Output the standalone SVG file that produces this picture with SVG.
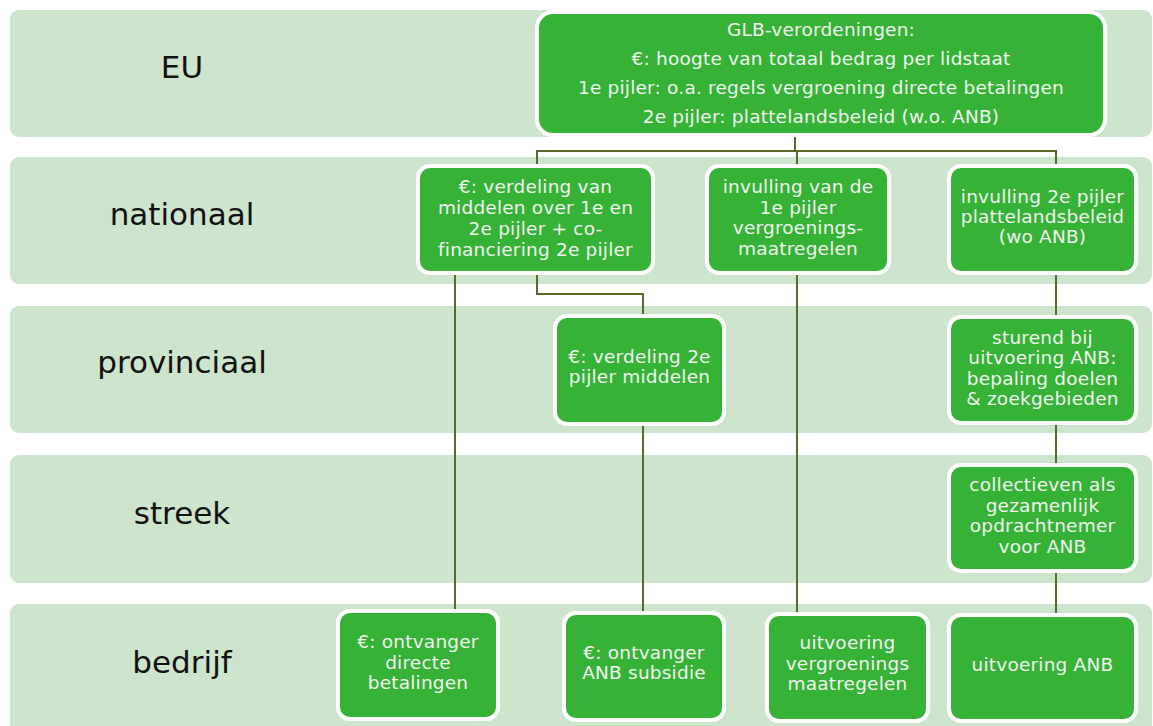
<svg xmlns="http://www.w3.org/2000/svg" width="1153" height="726" viewBox="0 0 1153 726">
  <style>
    .band { fill: #cde4cd; }
    .lane { font-family: "DejaVu Sans", Verdana, sans-serif; font-size: 31px; fill: #111; text-anchor: middle; }
    .box { fill: #36b336; stroke: #ffffff; stroke-width: 4; }
    .txt { font-family: "DejaVu Sans", Verdana, sans-serif; font-size: 18.5px; letter-spacing: 0.2px; fill: #f2f4f2; text-anchor: middle; }
    .conn { fill: none; stroke: #5a6a2c; stroke-width: 2; }
  </style>

  <!-- level bands -->
  <g id="lanes">
    <rect class="band" x="10" y="10" width="1142" height="127" rx="9"/>
    <rect class="band" x="10" y="157" width="1142" height="127" rx="9"/>
    <rect class="band" x="10" y="306" width="1142" height="127" rx="9"/>
    <rect class="band" x="10" y="455" width="1142" height="128" rx="9"/>
    <rect class="band" x="10" y="604" width="1142" height="140" rx="9"/>
    <text class="lane" x="182" y="78">EU</text>
    <text class="lane" x="182" y="225">nationaal</text>
    <text class="lane" x="182" y="373">provinciaal</text>
    <text class="lane" x="182" y="524">streek</text>
    <text class="lane" x="182" y="673">bedrijf</text>
  </g>

  <!-- connectors -->
  <g id="connectors">
    <path class="conn" d="M795,137 V151"/>
    <path class="conn" d="M537,166 V151 H1056 V166"/>
    <path class="conn" d="M797,151 V166"/>
    <path class="conn" d="M455,275 V611"/>
    <path class="conn" d="M537,275 V294 H643 V316"/>
    <path class="conn" d="M797,275 V614"/>
    <path class="conn" d="M1056,275 V317"/>
    <path class="conn" d="M1056,425 V465"/>
    <path class="conn" d="M1056,573 V615"/>
    <path class="conn" d="M643,426 V613"/>
  </g>

  <g id="glb">
    <rect class="box" x="537" y="12" width="568" height="123" rx="16"/>
    <text class="txt" x="821" y="36">GLB-verordeningen:</text>
    <text class="txt" x="821" y="65">€: hoogte van totaal bedrag per lidstaat</text>
    <text class="txt" x="821" y="94">1e pijler: o.a. regels vergroening directe betalingen</text>
    <text class="txt" x="821" y="123">2e pijler: plattelandsbeleid (w.o. ANB)</text>
  </g>

  <g id="nat-verdeling">
    <rect class="box" x="418" y="166" width="235" height="107" rx="12"/>
    <text class="txt" x="535.5" y="193">€: verdeling van</text>
    <text class="txt" x="535.5" y="214">middelen over 1e en</text>
    <text class="txt" x="535.5" y="235">2e pijler + co-</text>
    <text class="txt" x="535.5" y="256">financiering 2e pijler</text>
  </g>

  <g id="nat-pijler1">
    <rect class="box" x="707" y="166" width="182" height="107" rx="12"/>
    <text class="txt" x="798" y="193">invulling van de</text>
    <text class="txt" x="798" y="213.5">1e pijler</text>
    <text class="txt" x="798" y="234">vergroenings-</text>
    <text class="txt" x="798" y="254.5">maatregelen</text>
  </g>

  <g id="nat-pijler2">
    <rect class="box" x="949" y="166" width="187" height="107" rx="12"/>
    <text class="txt" x="1042.5" y="203">invulling 2e pijler</text>
    <text class="txt" x="1042.5" y="223">plattelandsbeleid</text>
    <text class="txt" x="1042.5" y="243">(wo ANB)</text>
  </g>

  <g id="prov-verdeling">
    <rect class="box" x="555" y="316" width="169" height="108" rx="12"/>
    <text class="txt" x="639.5" y="363">€: verdeling 2e</text>
    <text class="txt" x="639.5" y="383">pijler middelen</text>
  </g>

  <g id="prov-sturend">
    <rect class="box" x="949" y="317" width="187" height="106" rx="12"/>
    <text class="txt" x="1042.5" y="344">sturend bij</text>
    <text class="txt" x="1042.5" y="364">uitvoering ANB:</text>
    <text class="txt" x="1042.5" y="385">bepaling doelen</text>
    <text class="txt" x="1042.5" y="405">&amp; zoekgebieden</text>
  </g>

  <g id="streek-collectieven">
    <rect class="box" x="949" y="465" width="187" height="106" rx="12"/>
    <text class="txt" x="1042.5" y="491">collectieven als</text>
    <text class="txt" x="1042.5" y="512">gezamenlijk</text>
    <text class="txt" x="1042.5" y="532">opdrachtnemer</text>
    <text class="txt" x="1042.5" y="553">voor ANB</text>
  </g>

  <g id="bedr-directe">
    <rect class="box" x="338" y="611" width="160" height="108" rx="12"/>
    <text class="txt" x="418" y="648">€: ontvanger</text>
    <text class="txt" x="418" y="669">directe</text>
    <text class="txt" x="418" y="689">betalingen</text>
  </g>

  <g id="bedr-subsidie">
    <rect class="box" x="564" y="613" width="160" height="107" rx="12"/>
    <text class="txt" x="644" y="659">€: ontvanger</text>
    <text class="txt" x="644" y="679">ANB subsidie</text>
  </g>

  <g id="bedr-vergroening">
    <rect class="box" x="767" y="614" width="161" height="107" rx="12"/>
    <text class="txt" x="847.5" y="649">uitvoering</text>
    <text class="txt" x="847.5" y="670">vergroenings</text>
    <text class="txt" x="847.5" y="690">maatregelen</text>
  </g>

  <g id="bedr-anb">
    <rect class="box" x="949" y="615" width="187" height="106" rx="12"/>
    <text class="txt" x="1042.5" y="671">uitvoering ANB</text>
  </g>
</svg>
